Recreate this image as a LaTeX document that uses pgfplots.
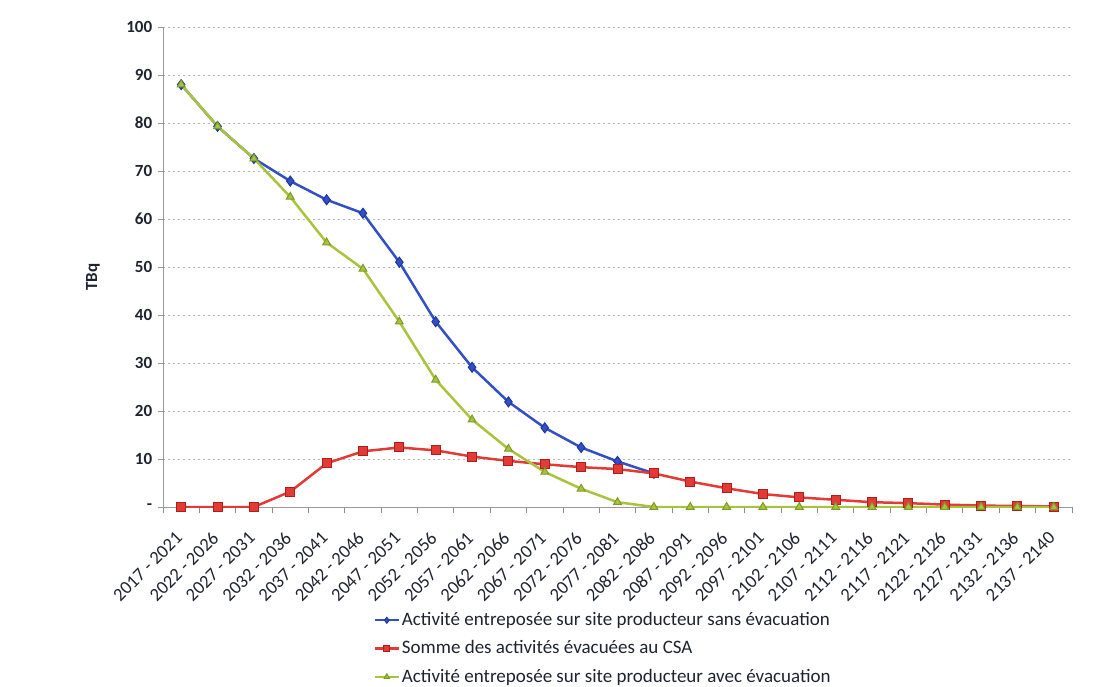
\documentclass[border=0pt]{standalone}
\usepackage{fontspec}
\setmainfont{Carlito}
\usepackage{pgfplots}
\pgfplotsset{compat=1.18}
\definecolor{cblue}{RGB}{50,80,196}
\definecolor{cbluedark}{RGB}{30,55,160}
\definecolor{cred}{RGB}{226,58,52}
\definecolor{creddark}{RGB}{175,30,30}
\definecolor{cgreen}{RGB}{168,196,60}
\definecolor{cgreendark}{RGB}{125,155,40}
\definecolor{ctext}{RGB}{30,35,48}
\begin{document}
\fontsize{17}{20}\selectfont
\begin{tikzpicture}
\useasboundingbox (-163pt,-180pt) rectangle (936pt,507pt);
\begin{axis}[
  scale only axis, width=909pt, height=480pt,
  xmin=-0.5, xmax=24.5, ymin=0, ymax=100,
  axis x line*=bottom, axis y line*=left,
  axis line style={gray!80, line width=0.9pt},
  tick align=outside, major tick length=5pt, minor tick length=6pt,
  tick style={gray!80, line width=0.8pt},
  minor tick style={gray!90, line width=0.9pt},
  ytick={0,10,...,100},
  yticklabels={-,10,20,30,40,50,60,70,80,90,100},
  yticklabel style={font=\fontsize{17}{20}\selectfont\bfseries, text=ctext},
  ymajorgrids,
  grid style={gray!55, dash pattern=on 2pt off 3pt, line width=0.8pt},
  xtick={0,1,...,24},
  xticklabels={2017 - 2021,2022 - 2026,2027 - 2031,2032 - 2036,2037 - 2041,2042 - 2046,2047 - 2051,2052 - 2056,2057 - 2061,2062 - 2066,2067 - 2071,2072 - 2076,2077 - 2081,2082 - 2086,2087 - 2091,2092 - 2096,2097 - 2101,2102 - 2106,2107 - 2111,2112 - 2116,2117 - 2121,2122 - 2126,2127 - 2131,2132 - 2136,2137 - 2140},
  every major x tick/.style={draw=none},
  minor xtick={-0.5,0.5,...,24.5},
  xticklabel style={yshift=-19pt, xshift=2pt, rotate=45, anchor=east, font=\fontsize{18.5}{20}\selectfont, text=ctext},
  ylabel={\bfseries TBq},
  ylabel style={at={(axis description cs:-0.077,0.479)}, anchor=center, font=\fontsize{17}{20}\selectfont, text=ctext},
  legend style={at={(axis description cs:0.2305,-0.213)}, anchor=north west, draw=none, fill=none,
    row sep=8.5pt, font=\fontsize{19}{22}\selectfont, text=ctext, inner sep=1pt},
  legend cell align=left,
  legend image code/.code={\draw[#1, line width=2.2pt, mark size=3pt, mark repeat=2, mark phase=2] plot coordinates {(0pt,0pt) (12pt,0pt) (24pt,0pt)};},
]
\addplot[cblue, line width=2.5pt, mark=diamond*, mark size=5pt, mark options={fill=cblue, draw=cbluedark, line width=1pt}]
  coordinates {(0,88) (1,79.3) (2,72.6) (3,67.9) (4,64.0) (5,61.2) (6,51.0) (7,38.6) (8,29.1) (9,21.9) (10,16.5) (11,12.4) (12,9.5) (13,7.0)};
\addlegendentry{Activité entreposée sur site producteur sans évacuation}
\addplot[cred, line width=2.5pt, mark=square*, mark size=4.5pt, mark options={fill=cred, draw=creddark, line width=1pt}]
  coordinates {(0,0) (1,0) (2,0) (3,3.2) (4,9.1) (5,11.6) (6,12.4) (7,11.8) (8,10.5) (9,9.6) (10,8.9) (11,8.3) (12,7.9) (13,7.0) (14,5.3) (15,3.9) (16,2.7) (17,2.0) (18,1.5) (19,1.0) (20,0.8) (21,0.5) (22,0.3) (23,0.2) (24,0.1)};
\addlegendentry{Somme des activités évacuées au CSA}
\addplot[cgreen, line width=2.5pt, mark=triangle*, mark size=4.5pt, mark options={fill=cgreen, draw=cgreendark, line width=1pt}]
  coordinates {(0,88) (1,79.3) (2,72.6) (3,64.6) (4,55.1) (5,49.6) (6,38.6) (7,26.5) (8,18.2) (9,12.1) (10,7.3) (11,3.8) (12,1.0) (13,0) (14,0) (15,0) (16,0) (17,0) (18,0) (19,0) (20,0) (21,0) (22,0) (23,0) (24,0)};
\addlegendentry{Activité entreposée sur site producteur avec évacuation}
\end{axis}
\end{tikzpicture}
\end{document}
